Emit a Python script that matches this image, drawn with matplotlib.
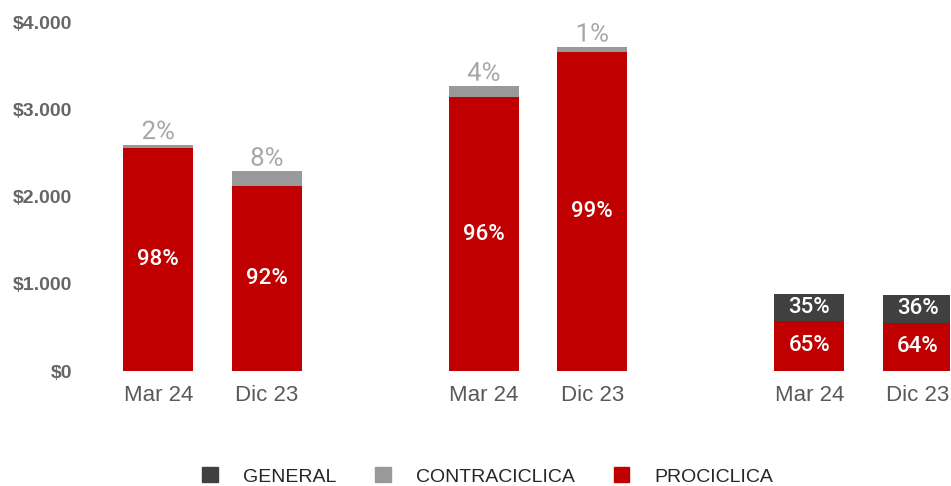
import numpy as np
import matplotlib.pyplot as plt
from matplotlib.patches import Patch
import matplotlib.patheffects as pe

# data
periodos = ["Mar 24", "Dic 23", "Mar 24", "Dic 23", "Mar 24", "Dic 23"]
posiciones = [0, 1, 3, 4, 6, 7]
prociclica = [2555, 2120, 3140, 3665, 575, 555]
contraciclica = [45, 175, 130, 55, 0, 0]
general = [0, 0, 0, 0, 310, 315]
pct_pro = ["98%", "92%", "96%", "99%", "65%", "64%"]
pct_contra = ["2%", "8%", "4%", "1%", "", ""]
pct_gen = ["", "", "", "", "35%", "36%"]

c_pro = "#C00000"
c_contra = "#999999"
c_gen = "#404040"

fig = plt.figure(figsize=(9.51, 4.86), dpi=100)
ax = fig.add_axes([0.098, 0.2366, 0.9014, 0.717])

w = 0.645
pro = np.array(prociclica)
con = np.array(contraciclica)
gen = np.array(general)
ax.bar(posiciones, pro, w, color=c_pro)
ax.bar(posiciones, con, w, bottom=pro, color=c_contra)
ax.bar(posiciones, gen, w, bottom=pro, color=c_gen)

for i, x in enumerate(posiciones):
    ax.text(x, pro[i] / 2, pct_pro[i], ha="center", va="center", color="white",
            fontsize=16, family="Roboto", fontweight="medium")
    if pct_contra[i]:
        t = ax.text(x, pro[i] + con[i] + 5, pct_contra[i], ha="center", va="bottom",
                    color="#A6A6A6", fontsize=18.5, family="Roboto")
        t.set_path_effects([pe.withStroke(linewidth=3, foreground="white")])
    if pct_gen[i]:
        ax.text(x, pro[i] + gen[i] / 2, pct_gen[i], ha="center", va="center",
                color="white", fontsize=16, family="Roboto", fontweight="medium")

ax.set_xlim(-0.6, 7.3)
ax.set_ylim(0, 4000)
ax.set_yticks([0, 1000, 2000, 3000, 4000])
ax.set_yticklabels(["$0", "$1.000", "$2.000", "$3.000", "$4.000"],
                   fontsize=14, fontweight="bold", color="#666666", family="Liberation Sans")
ax.set_xticks(posiciones)
ax.set_xticklabels(periodos, fontsize=16, color="#595959", family="Liberation Sans")
ax.tick_params(axis="y", length=0, pad=15)
ax.tick_params(axis="x", length=0, pad=10)
for s in ax.spines.values():
    s.set_visible(False)

handles = [Patch(color=c_gen, label="GENERAL"),
           Patch(color=c_contra, label="CONTRACICLICA"),
           Patch(color=c_pro, label="PROCICLICA")]
fig.legend(handles=handles, loc="lower center", bbox_to_anchor=(0.513, -0.035), ncol=3,
           frameon=False, prop={"family": "Liberation Sans", "size": 14},
           handlelength=0.8, handleheight=0.8, handletextpad=1.3, columnspacing=2.0,
           labelcolor="#262626")

fig.savefig("out.png", dpi=100)
